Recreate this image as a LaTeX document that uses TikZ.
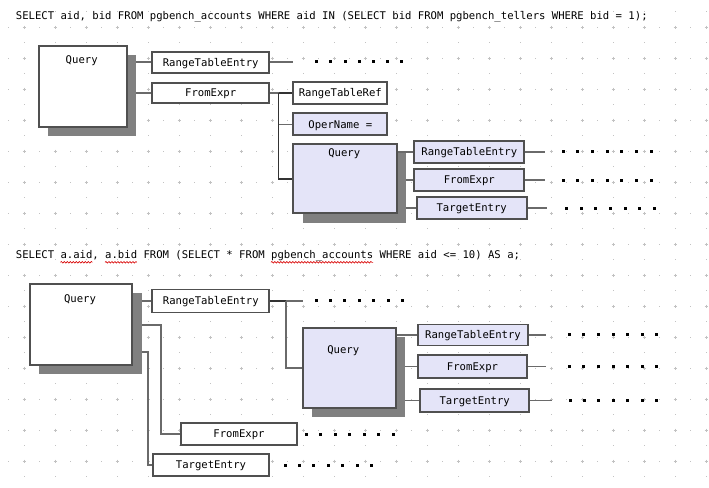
\documentclass[tikz,border=0pt]{standalone}
\usepackage{fontspec}
\setmonofont{DejaVu Sans Mono}
\usetikzlibrary{shadows,calc,decorations.pathmorphing}

\definecolor{gridgray}{HTML}{C2C2C2}
\definecolor{boxline}{HTML}{505050}
\definecolor{wirec}{HTML}{6A6A6A}
\definecolor{trunkc}{HTML}{333333}
\definecolor{shade}{HTML}{808080}
\definecolor{lavbg}{HTML}{E4E4F8}

\pgfdeclarelayer{grid}
\pgfdeclarelayer{wires}
\pgfsetlayers{grid,wires,main}

\newcommand\codefont{\ttfamily\frenchspacing\fontsize{10.6}{12}\selectfont}

% a row of seven small square markers from x=#1 to x=#2 at height #3
\newcommand\dotrow[3]{%
  \foreach \k in {0,...,6}
    \fill[black] ({#1+\k*(#2-#1)/6-1.5},{#3-1.5}) rectangle ++(3,3);}

\tikzset{
  box/.style={draw=boxline, line width=1.8pt, fill=white, inner sep=0pt,
    font=\codefont, text height=7.7pt, text depth=0pt},
  size/.style 2 args={minimum width=#1pt, minimum height=#2pt},
  lav/.style={fill=lavbg},
  shadowed/.style={general shadow={fill=shade, shadow xshift=9.3pt, shadow yshift=-9.3pt}},
  qlbl/.style={inner sep=0pt, anchor=north, font=\codefont, text height=7.7pt, text depth=0pt},
  sqltext/.style={inner sep=0pt, anchor=base west, font=\codefont},
  wire/.style={draw=wirec, line width=1.4pt},
  trunk/.style={draw=trunkc, line width=1.6pt},
  squiggle/.style={draw=red!85!black, line width=0.6pt, decorate,
    decoration={snake, amplitude=0.8pt, segment length=3pt}},
}

\begin{document}
\begin{tikzpicture}[x=1pt, y=-1pt]
\useasboundingbox (0,0) rectangle (709,487);

% white sheet with a dotted drawing grid
\begin{pgfonlayer}{grid}
  \fill[white] (0,0) rectangle (709,487);
  \foreach \i in {0,...,22}
    \foreach \j in {0,...,14}
      \draw[gridgray, line width=0.9pt]
        ({24.3+31*\i-1.6},{27.3+31*\j}) -- ++(3.2,0)
        ({24.3+31*\i},{27.3+31*\j-1.6}) -- ++(0,3.2);
  \foreach \i in {-1,...,22}
    \foreach \j in {0,...,14}
      \fill[gridgray] ({24.3+31*\i+15.5-0.6},{27.3+31*\j-0.6}) rectangle ++(1.2,1.2);
  \foreach \i in {0,...,22}
    \foreach \j in {-1,...,14}
      \fill[gridgray] ({24.3+31*\i-0.6},{27.3+31*\j+15.5-0.6}) rectangle ++(1.2,1.2);
\end{pgfonlayer}

% ---------- first statement ----------
\node[sqltext] (sql1) at (15.7,20)
  {SELECT aid, bid FROM pgbench\_accounts WHERE aid IN (SELECT bid FROM pgbench\_tellers WHERE bid = 1);};

\node[box, shadowed, size={88}{81}] (q1) at (83,86.5) {};
\node[qlbl] (q1t) at ($(q1.north)+(-1.3,10.7)$) {Query};
\node[box, size={116.7}{21}] (rte1) at (210.7,62.2) {RangeTableEntry};
\node[box, size={116.7}{20.6}] (fe1) at (210.7,93) {FromExpr};
\node[box, size={94}{21.6}] (rtr) at (340.3,93) {RangeTableRef};
\node[box, lav, size={94}{21.7}] (opn) at (340.3,124.2) {OperName =};
\node[box, lav, shadowed, size={103.4}{69.3}] (q1i) at (345,178.7) {};
\node[qlbl] (q1it) at ($(q1i.north)+(-0.7,5)$) {Query};
\node[box, lav, size={110}{21.7}] (rte1i) at (469.3,151.8) {RangeTableEntry};
\node[box, lav, size={110}{21.4}] (fe1i) at (469.3,180) {FromExpr};
\node[box, lav, size={110}{22.6}] (te1i) at (471.7,208) {TargetEntry};

\coordinate (rte1end) at (293.3,62);
\coordinate (j1) at (278.5,93);
\coordinate (rte1iend) at (545,152);
\coordinate (fe1iend) at (545,180);
\coordinate (te1iend) at (546.7,208);

\begin{pgfonlayer}{wires}
  \draw[wire] (q1.east |- rte1end) -- (rte1.west |- rte1end);
  \draw[wire] (q1.east |- fe1.west) -- (fe1.west);
  \draw[wire] (rte1.east |- rte1end) -- (rte1end);
  \draw[wire] (fe1.east) -- (j1);
  \draw[trunk] (j1) -- (rtr.west);
  \draw[trunk] (j1) |- (q1i.west);
  \draw[wire] (opn.west -| j1) -- (opn.west);
  \draw[wire] (q1i.east |- rte1iend) -- (rte1i.west |- rte1iend);
  \draw[wire] (q1i.east |- fe1i.west) -- (fe1i.west);
  \draw[wire] (q1i.east |- te1i.west) -- (te1i.west);
  \draw[wire] (rte1i.east |- rte1iend) -- (rte1iend);
  \draw[wire] (fe1i.east) -- (fe1iend);
  \draw[wire] (te1i.east) -- (te1iend);
\end{pgfonlayer}

\dotrow{316.7}{401.7}{61.7}
\dotrow{563.3}{651}{151.8}
\dotrow{563.3}{651}{180}
\dotrow{566.7}{654.3}{208}

% ---------- second statement ----------
\node[sqltext] (sql2) at (15.7,258.3)
  {SELECT a.aid, a.bid FROM (SELECT * FROM pgbench\_accounts WHERE aid <= 10) AS a;};
\draw[squiggle] (60.4,262.3) -- (92.3,262.3);
\draw[squiggle] (105,262.3) -- (136.9,262.3);
\draw[squiggle] (270.9,262.3) -- (373,262.3);

\node[box, shadowed, size={102.3}{81}] (q2) at (81.2,324.5) {};
\node[qlbl] (q2t) at ($(q2.north)+(-1.2,11)$) {Query};
\node[box, size={117}{23}] (rte2) at (210.8,301) {RangeTableEntry};
\node[box, lav, shadowed, size={93.3}{80}] (q2i) at (349.3,368) {};
\node[qlbl] (q2it) at ($(q2i.north)+(-6,18)$) {Query};
\node[box, lav, size={110.6}{21}] (rte2i) at (473,335) {RangeTableEntry};
\node[box, lav, size={109.6}{22.7}] (fe2i) at (472.5,366.3) {FromExpr};
\node[box, lav, size={109.3}{22.4}] (te2i) at (474.7,400.5) {TargetEntry};
\node[box, size={116.6}{21.7}] (fe2) at (239,434) {FromExpr};
\node[box, size={116.6}{21.7}] (te2) at (211,465) {TargetEntry};

\coordinate (b1) at (161,325);
\coordinate (b2) at (148,352);
\coordinate (j2) at (286,301);
\coordinate (rte2end) at (303.3,301);
\coordinate (rte2iend) at (546,335);
\coordinate (fe2iend) at (546,366.3);
\coordinate (te2iend) at (551.7,400.5);

\begin{pgfonlayer}{wires}
  \draw[wire] (q2.east |- rte2.west) -- (rte2.west);
  \draw[wire] (q2.east |- b1) -- (b1) |- (fe2.west);
  \draw[wire] (q2.east |- b2) -- (b2) |- (te2.west);
  \draw[trunk] (rte2.east) -- (j2);
  \draw[wire] (j2) -- (rte2end);
  \draw[wire] (j2) |- (q2i.west);
  \draw[wire] (q2i.east |- rte2i.west) -- (rte2i.west);
  \draw[wire] (q2i.east |- fe2i.west) -- (fe2i.west);
  \draw[wire] (q2i.east |- te2i.west) -- (te2i.west);
  \draw[wire] (rte2i.east) -- (rte2iend);
  \draw[wire] (fe2i.east) -- (fe2iend);
  \draw[wire] (te2i.east) -- (te2iend);
\end{pgfonlayer}

\dotrow{316}{402.7}{300.7}
\dotrow{569.3}{656.7}{334.8}
\dotrow{569.3}{656.7}{366.3}
\dotrow{570}{656.7}{400.5}
\dotrow{306}{393.3}{434.2}
\dotrow{285}{371.7}{465.2}

\end{tikzpicture}
\end{document}
